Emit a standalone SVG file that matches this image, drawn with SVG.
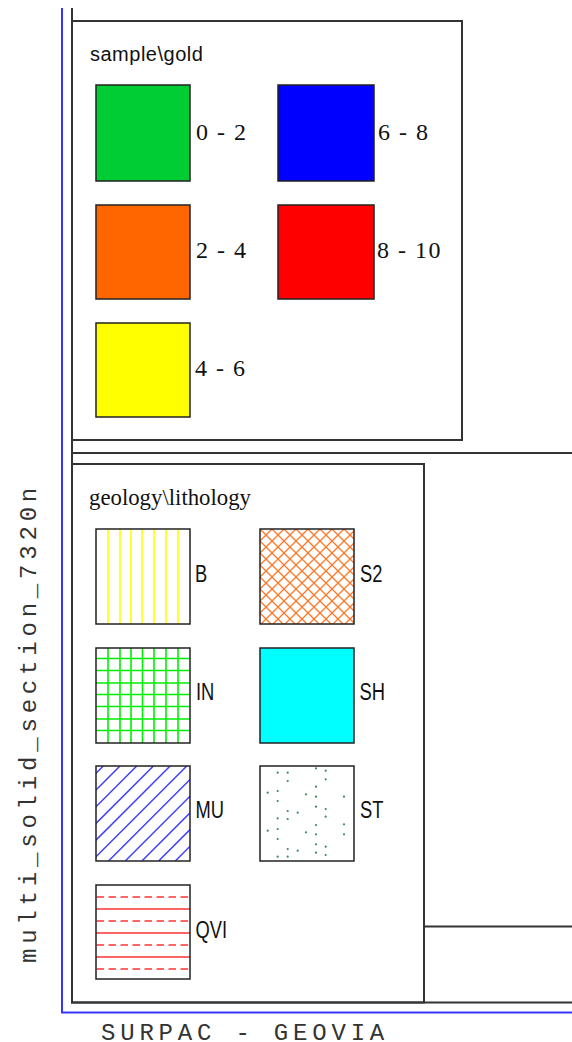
<svg xmlns="http://www.w3.org/2000/svg" width="572" height="1042" viewBox="0 0 572 1042">
<style>
.frame{stroke:#333;stroke-width:2;fill:none}
.blue{stroke:#3535ff;stroke-width:2;fill:none}
.sw{stroke:#222;stroke-width:1.5}
.num{font-family:"Liberation Serif","Times New Roman",serif;font-size:24px;letter-spacing:1.5px;fill:#111}
.lab{font-family:"Liberation Sans",Arial,sans-serif;font-size:23.5px;fill:#111}
.mono{font-family:"Liberation Mono","Courier New",monospace;font-size:24px;letter-spacing:4.8px;fill:#333}
</style>
<defs>
<clipPath id="cMU"><rect x="96" y="766" width="94" height="95"/></clipPath>
<pattern id="pS2" patternUnits="userSpaceOnUse" x="260" y="529" width="12" height="12">
<path d="M0 0L12 12M12 0L0 12M-1 11L1 13M11 -1L13 1" stroke="#ff6a10" stroke-width="1.3" stroke-opacity="0.9"/>
</pattern>
</defs>
<rect width="572" height="1042" fill="#fff"/>
<g id="frame">
<path class="blue" d="M62 8V1012.5H572"/>
<path class="frame" d="M72 8V1002.5H572"/>
<path class="frame" d="M72 453H572"/>
<path class="frame" d="M424 926.5H572"/>
</g>
<g id="gold-legend">
<rect class="frame" x="72" y="21" width="390" height="419"/>
<text x="90" y="61" font-family="Liberation Sans, Arial, sans-serif" font-size="20" letter-spacing="0.5" fill="#111">sample\gold</text>
<g id="g02"><rect class="sw" x="96" y="85" width="94" height="96" fill="#00cc33"/><text class="num" x="196" y="140">0 - 2</text></g>
<g id="g68"><rect class="sw" x="278" y="85" width="96" height="96" fill="#0000ff"/><text class="num" x="378" y="140">6 - 8</text></g>
<g id="g24"><rect class="sw" x="96" y="205" width="94" height="94" fill="#ff6600"/><text class="num" x="196" y="258">2 - 4</text></g>
<g id="g810"><rect class="sw" x="278" y="205" width="96" height="94" fill="#ff0000"/><text class="num" x="377" y="258">8 - 10</text></g>
<g id="g46"><rect class="sw" x="96" y="323" width="94" height="94" fill="#ffff00"/><text class="num" x="195" y="376">4 - 6</text></g>
</g>
<g id="lith-legend">
<rect class="frame" x="72" y="464" width="352" height="538.5"/>
<text transform="translate(89,504.5) scale(0.95,1)" font-family="Liberation Serif, Times New Roman, serif" font-size="24" fill="#111">geology\lithology</text>
<g id="B">
<rect x="96" y="529" width="94" height="95" fill="#fff"/>
<path d="M108 529V624M120 529V624M131 529V624M142 529V624M154 529V624M166 529V624M178 529V624" stroke="#ffff00" stroke-width="1.6"/>
<rect class="sw" x="96" y="529" width="94" height="95" fill="none"/>
<text class="lab" transform="translate(195,582) scale(0.78,1)">B</text>
</g>
<g id="S2">
<rect x="260" y="529" width="94" height="95" fill="#fff"/>
<rect x="260" y="529" width="94" height="95" fill="url(#pS2)"/>
<rect class="sw" x="260" y="529" width="94" height="95" fill="none"/>
<text class="lab" transform="translate(360,582) scale(0.78,1)">S2</text>
</g>
<g id="IN">
<rect x="96" y="648" width="94" height="95" fill="#fff"/>
<path d="M108 648V743M120 648V743M131 648V743M142.5 648V743M154 648V743M166 648V743M178 648V743M96 658.5H190M96 670.5H190M96 683H190M96 694.5H190M96 706.5H190M96 719H190M96 730.5H190" stroke="#00ee00" stroke-width="1.6"/>
<rect class="sw" x="96" y="648" width="94" height="95" fill="none"/>
<text class="lab" transform="translate(196,700) scale(0.78,1)">IN</text>
</g>
<g id="SH">
<rect class="sw" x="260" y="648" width="94" height="95" fill="#00ffff"/>
<text class="lab" transform="translate(359.5,700) scale(0.78,1)">SH</text>
</g>
<g id="MU">
<rect x="96" y="766" width="94" height="95" fill="#fff"/>
<path clip-path="url(#cMU)" d="M8.3 861L103.3 766M25 861L120 766M41.7 861L136.7 766M58.4 861L153.4 766M75.1 861L170.1 766M91.8 861L186.8 766M108.5 861L203.5 766M125.2 861L220.2 766M141.9 861L236.9 766M158.6 861L253.6 766M175.3 861L270.3 766" stroke="#4040ff" stroke-width="1.5"/>
<rect class="sw" x="96" y="766" width="94" height="95" fill="none"/>
<text class="lab" transform="translate(195.5,817.5) scale(0.78,1)">MU</text>
</g>
<g id="ST">
<rect class="sw" x="260" y="766" width="94" height="95" fill="#fff"/>
<g fill="#3a8a5a">
<circle cx="277.7" cy="772.7" r="1.1"/><circle cx="287.7" cy="772.7" r="1.1"/><circle cx="316" cy="768.3" r="1.1"/><circle cx="325.7" cy="770.7" r="1.1"/>
<circle cx="287.7" cy="781" r="1.1"/><circle cx="325.7" cy="779.3" r="1.1"/><circle cx="316" cy="786.7" r="1.1"/><circle cx="267.7" cy="792.7" r="1.1"/>
<circle cx="277.7" cy="791" r="1.1"/><circle cx="306" cy="794.3" r="1.1"/><circle cx="316" cy="796.7" r="1.1"/><circle cx="344" cy="796.7" r="1.1"/>
<circle cx="277.7" cy="801" r="1.1"/><circle cx="316" cy="806.7" r="1.1"/><circle cx="325.7" cy="809" r="1.1"/><circle cx="287.7" cy="811" r="1.1"/>
<circle cx="297.7" cy="812.7" r="1.1"/><circle cx="325.7" cy="816.7" r="1.1"/><circle cx="277.7" cy="818.3" r="1.1"/><circle cx="287.7" cy="819" r="1.1"/>
<circle cx="316" cy="825" r="1.1"/><circle cx="344" cy="824.3" r="1.1"/><circle cx="267.7" cy="830.7" r="1.1"/><circle cx="277.7" cy="829" r="1.1"/>
<circle cx="306" cy="832.3" r="1.1"/><circle cx="316" cy="834.3" r="1.1"/><circle cx="344" cy="834.3" r="1.1"/><circle cx="277.7" cy="839" r="1.1"/>
<circle cx="316" cy="844.3" r="1.1"/><circle cx="325.7" cy="846.7" r="1.1"/><circle cx="287.7" cy="849" r="1.1"/><circle cx="297.7" cy="850.7" r="1.1"/>
<circle cx="325.7" cy="855" r="1.1"/><circle cx="277.7" cy="856.7" r="1.1"/><circle cx="287.7" cy="856.7" r="1.1"/><circle cx="316" cy="852.7" r="1.1"/>
</g>
<text class="lab" transform="translate(360,817.5) scale(0.78,1)">ST</text>
</g>
<g id="QVI">
<rect x="96" y="885" width="94" height="94" fill="#fff"/>
<path d="M96 909H190M96 933H190M96 957H190" stroke="#ff3333" stroke-width="1.5"/>
<path d="M96.5 897H190M96.5 921H190M96.5 945H190M96.5 969H190" stroke="#ff3333" stroke-width="1.5" stroke-dasharray="7.5 4.5"/>
<rect class="sw" x="96" y="885" width="94" height="94" fill="none"/>
<text class="lab" transform="translate(195.5,938) scale(0.78,1)">QVI</text>
</g>
</g>
<text class="mono" x="101" y="1039.5">SURPAC - GEOVIA</text>
<text class="mono" transform="translate(35.5,963) rotate(-90)">multi_solid_section_7320n</text>
</svg>
